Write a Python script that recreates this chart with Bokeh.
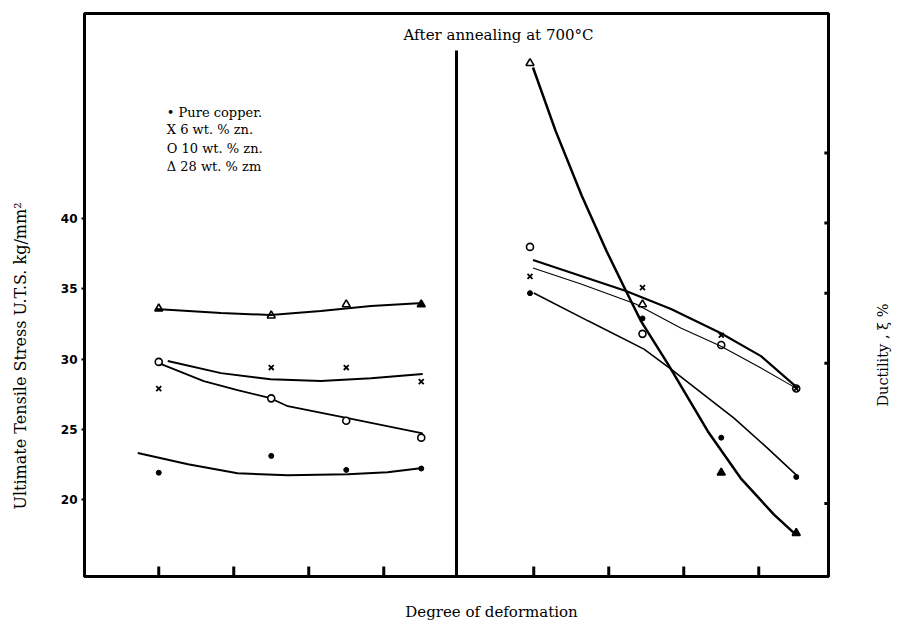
import math
from bokeh.plotting import figure
from bokeh.layouts import row, column
from bokeh.models import Range1d, LinearAxis, FixedTicker, Label
from bokeh.core.properties import value
from bokeh.embed import file_html
from bokeh.resources import INLINE

# ---------------- data ----------------
# degree of deformation, in tick units of the (unlabelled) x axis
def_left = [0.0, 1.5, 2.5, 3.5]        # left half
def_right = [4.95, 6.45, 7.5, 8.5]     # right half: after annealing at 700 C

# Ultimate tensile stress, kg/mm^2 (left half)
uts_cu = [21.9, 23.1, 22.1, 22.2]
uts_zn6 = [27.9, 29.4, 29.4, 28.4]
uts_zn10 = [29.8, 27.2, 25.6, 24.4]
uts_zn28 = [33.6, 33.1, 33.9, 33.9]

# Ductility (right half, unlabelled right scale)
duct_cu = [35.0, 33.2, 24.7, 21.9]
duct_zn6 = [36.2, 35.4, 32.0, 28.2]
duct_zn10 = [38.3, 32.1, 31.3, 28.2]
duct_zn28 = [51.4, 34.2, 22.2, 17.9]

# hand-drawn trend curves
fit_uts_cu_x = [-0.28, 0.39, 1.05, 1.72, 2.52, 3.05, 3.49]
fit_uts_cu_y = [23.3, 22.5, 21.86, 21.71, 21.79, 21.93, 22.21]
fit_uts_zn6_x = [0.12, 0.83, 1.49, 2.16, 2.83, 3.52]
fit_uts_zn6_y = [29.86, 29.0, 28.57, 28.43, 28.64, 28.93]
fit_uts_zn10_x = [0.0, 0.6, 1.05, 1.49, 1.72, 2.52, 3.52]
fit_uts_zn10_y = [29.71, 28.43, 27.79, 27.21, 26.64, 25.79, 24.71]
fit_uts_zn28_x = [-0.04, 0.83, 1.49, 2.16, 2.83, 3.52]
fit_uts_zn28_y = [33.57, 33.29, 33.14, 33.43, 33.79, 34.0]

fit_duct_cu_x = [5.0, 5.73, 6.47, 6.83, 7.67, 8.12, 8.52]
fit_duct_cu_y = [35.01, 33.01, 31.01, 29.59, 26.09, 23.94, 21.94]
fit_duct_zn6_x = [4.99, 5.63, 6.23, 6.83, 7.49, 8.03, 8.52]
fit_duct_zn6_y = [37.37, 36.23, 35.16, 33.87, 32.16, 30.51, 28.23]
fit_duct_zn10_x = [4.99, 5.63, 6.36, 6.96, 7.49, 8.03, 8.52]
fit_duct_zn10_y = [36.8, 35.66, 34.23, 32.51, 31.23, 29.66, 28.16]
fit_duct_zn28_x = [4.99, 5.29, 5.64, 5.97, 6.23, 6.43, 6.79, 7.32, 7.76, 8.2, 8.49]
fit_duct_zn28_y = [51.09, 46.59, 41.94, 38.01, 35.16, 33.01, 29.94, 25.16, 21.8, 19.23, 17.8]

uts_ticks = [20, 25, 30, 35, 40]
duct_ticks = [20, 30, 35, 40, 45]
deform_ticks = [0, 1, 2, 3, 5, 6, 7, 8]

legend_lines = ["\u2022 Pure copper.", "X 6 wt. % zn.", "O 10 wt. % zn.", "\u0394 28 wt. % zm"]
title_text = "After annealing at 700\u00b0C"
x_label = "Degree of deformation"
y_label = "Ultimate Tensile Stress U.T.S. kg/mm\u00b2"
y2_label = "Ductility , \u03be %"

SERIF = "DejaVu Serif"

# ---------------- layout sizes (pixels) ----------------
W, H = 920, 623
LEFT_W, RIGHT_W, BOTTOM_H = 40, 70, 23
MAIN_W, MAIN_H = W - LEFT_W - RIGHT_W, H - BOTTOM_H


def strip(width, height):
    s = figure(width=width, height=height, output_backend="svg", toolbar_location=None,
               x_range=Range1d(0, width), y_range=Range1d(0, height),
               x_axis_type=None, y_axis_type=None, min_border=0)
    s.outline_line_color = None
    s.background_fill_color = "white"
    s.border_fill_color = "white"
    return s


# ---------------- main plot ----------------
X0, X1 = -0.99, 8.93
Y0, Y1 = 14.5, 54.64
p = figure(width=MAIN_W, height=MAIN_H, output_backend="svg", toolbar_location=None,
           x_range=Range1d(X0, X1), y_range=Range1d(Y0, Y1),
           x_axis_type=None, y_axis_type=None,
           min_border_left=84 - LEFT_W, min_border_right=W - RIGHT_W - 828,
           min_border_top=13, min_border_bottom=MAIN_H - 576)
p.extra_y_ranges = {"duct": Range1d(Y0 + 0.3, Y1 + 0.3)}
p.grid.visible = False
p.background_fill_color = "white"
p.border_fill_color = "white"
p.outline_line_color = "black"
p.outline_line_width = 3

# left axis: UTS
ya = LinearAxis(ticker=FixedTicker(ticks=uts_ticks))
ya.axis_line_width = 3
ya.major_tick_out = 3
ya.major_tick_in = 0
ya.major_tick_line_width = 2
ya.minor_tick_line_color = None
ya.major_label_standoff = 4
ya.major_label_text_font = "DejaVu Sans"
ya.major_label_text_font_style = "bold"
ya.major_label_text_font_size = "12px"
ya.major_label_text_color = "black"
p.add_layout(ya, "left")

# right and bottom axes: lines only (their ticks carry no labels)
ra = LinearAxis(y_range_name="duct", ticker=FixedTicker(ticks=[]))
ra.axis_line_width = 3
p.add_layout(ra, "right")
xa = LinearAxis(ticker=FixedTicker(ticks=[]))
xa.axis_line_width = 3
p.add_layout(xa, "below")

# unlabelled tick marks, pointing into the frame
BOT_TICK = 0.72     # y units (~10 px)
RIGHT_TICK = 0.055  # x units (~4 px)
p.segment(x0=deform_ticks, y0=[Y0] * len(deform_ticks), x1=deform_ticks,
          y1=[Y0 + BOT_TICK] * len(deform_ticks), line_color="black", line_width=3)
p.segment(x0=[X1] * len(duct_ticks), y0=duct_ticks, x1=[X1 - RIGHT_TICK] * len(duct_ticks),
          y1=duct_ticks, line_color="black", line_width=3, y_range_name="duct")

# divider between the two halves
DIV_X = 3.97
DIV_TOP = 52.0
p.segment(x0=[DIV_X], y0=[Y0], x1=[DIV_X], y1=[DIV_TOP], line_color="black", line_width=3)

p.add_layout(Label(x=4.53, y=53.1, text=title_text, text_align="center", text_baseline="middle",
                   text_font=SERIF, text_font_size="15px", text_color="black"))

# legend as plain text lines
p.text(x=[0.107] * 4, y=[47.61, 46.34, 45.02, 43.74], text=legend_lines,
       text_font=value(SERIF), text_font_size="13px", text_color="black",
       text_baseline="middle", text_align="left")

# ---- left half: UTS ----
p.line(fit_uts_cu_x, fit_uts_cu_y, line_color="black", line_width=2)
p.line(fit_uts_zn6_x, fit_uts_zn6_y, line_color="black", line_width=2)
p.line(fit_uts_zn10_x, fit_uts_zn10_y, line_color="black", line_width=1.8)
p.line(fit_uts_zn28_x, fit_uts_zn28_y, line_color="black", line_width=2)

tri_fill_left = [None, None, None, "black"]
tri_fill_right = [None, None, "black", "black"]

p.scatter(def_left, uts_cu, marker="circle", size=5, fill_color="black", line_color="black")
p.scatter(def_left, uts_zn6, marker="x", size=7, line_color="black", line_width=1.8)
p.scatter(def_left, uts_zn10, marker="circle", size=7, fill_color="white", line_color="black", line_width=1.6)
p.scatter(def_left, uts_zn28, marker="triangle", size=8, fill_color=tri_fill_left, line_color="black", line_width=1.6)

# ---- right half: ductility ----
p.line(fit_duct_cu_x, fit_duct_cu_y, line_color="black", line_width=1.6, y_range_name="duct")
p.line(fit_duct_zn6_x, fit_duct_zn6_y, line_color="black", line_width=2.2, y_range_name="duct")
p.line(fit_duct_zn10_x, fit_duct_zn10_y, line_color="black", line_width=1.1, y_range_name="duct")
p.line(fit_duct_zn28_x, fit_duct_zn28_y, line_color="black", line_width=2.5, y_range_name="duct")

p.scatter(def_right, duct_cu, marker="circle", size=5, fill_color="black", line_color="black", y_range_name="duct")
p.scatter(def_right, duct_zn6, marker="x", size=7, line_color="black", line_width=1.8, y_range_name="duct")
p.scatter(def_right, duct_zn10, marker="circle", size=7, fill_color=None, line_color="black", line_width=1.6, y_range_name="duct")
p.scatter(def_right, duct_zn28, marker="triangle", size=8, fill_color=tri_fill_right, line_color="black", line_width=1.6, y_range_name="duct")

# ---------------- axis titles in side strips ----------------
left_strip = strip(LEFT_W, MAIN_H)
left_strip.text(x=[20], y=[MAIN_H - 365], text=[y_label], angle=math.pi / 2,
                text_align="center", text_baseline="middle", text_font=value(SERIF),
                text_font_size="16px", text_color="black")

right_strip = strip(RIGHT_W, MAIN_H)
right_strip.text(x=[882 - (W - RIGHT_W)], y=[MAIN_H - 364], text=[y2_label], angle=math.pi / 2,
                 text_align="center", text_baseline="middle", text_font=value(SERIF),
                 text_font_size="14.5px", text_color="black")

bottom_strip = strip(W, BOTTOM_H)
bottom_strip.text(x=[491], y=[H - 611], text=[x_label], text_align="center",
                  text_baseline="middle", text_font=value(SERIF),
                  text_font_size="15px", text_color="black")

layout = column(row(left_strip, p, right_strip, spacing=0), bottom_strip, spacing=0)

open("out.html", "w").write(file_html(layout, INLINE))
